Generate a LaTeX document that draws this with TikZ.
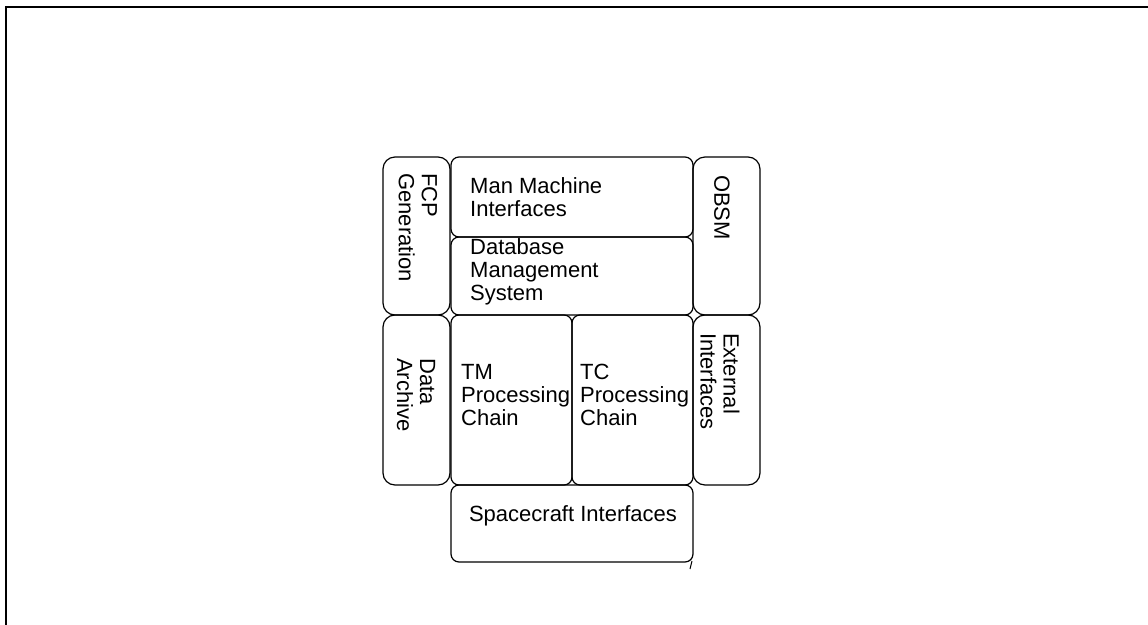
\documentclass[tikz,border=0pt]{standalone}
\usepackage{fontspec}
\setmainfont{Liberation Sans}
\begin{document}
\begin{tikzpicture}[x=1pt,y=-1pt,
  blk/.style={draw, line width=1.2pt, inner sep=0pt, outer sep=0pt},
  sideblk/.style={blk, rounded corners=12pt},
  midblk/.style={blk, rounded corners=8pt},
  lab/.style={inner sep=0pt, align=left, font=\fontsize{22}{23}\selectfont},
  vlab/.style={lab, rotate=-90, anchor=west},
  hlab/.style={lab, anchor=west}]
\useasboundingbox (0,0) rectangle (1148,624);
% page frame
\draw[line width=2.5pt] (6,630) -- (6,7) -- (1150,7);

% blocks
\node[sideblk, minimum width=67pt, minimum height=158pt] (fcp)  at (416.5,236) {};
\node[midblk,  minimum width=242pt, minimum height=80pt] (mmi)  at (572,197) {};
\node[midblk,  minimum width=242pt, minimum height=78pt] (dms)  at (572,276) {};
\node[sideblk, minimum width=67pt, minimum height=158pt] (obsm) at (726.5,236) {};
\node[sideblk, minimum width=67pt, minimum height=170pt] (arch) at (416.5,400) {};
\node[midblk,  minimum width=121pt, minimum height=170pt] (tm)  at (511.5,400) {};
\node[midblk,  minimum width=121pt, minimum height=170pt] (tc)  at (632.5,400) {};
\node[sideblk, minimum width=67pt, minimum height=170pt] (ext)  at (726.5,400) {};
\node[midblk,  minimum width=242pt, minimum height=77pt] (sci)  at (572,523.5) {};

% labels
\node[vlab] (fcpl)  at (418,173) {FCP\\Generation};
\node[vlab] (obsml) at (722,175) {OBSM};
\node[vlab] (archl) at (416,358) {Data\\Archive};
\node[vlab] (extl)  at (720,333) {External\\Interfaces};
\node[hlab] (mmil)  at (470,197) {Man Machine\\Interfaces};
\node[hlab] (dmsl)  at (470,272) {Database\\Management\\System};
\node[hlab] (tml)   at (461,395) {TM\\Processing\\Chain};
\node[hlab] (tcl)   at (580,395) {TC\\Processing\\Chain};
\node[lab]  (scil)  at (573,516) {Spacecraft Interfaces};

% small stroke below the spacecraft block corner
\draw[line width=1pt] (sci.south east) ++(-1,-1) -- ++(-2,8);
\end{tikzpicture}
\end{document}
